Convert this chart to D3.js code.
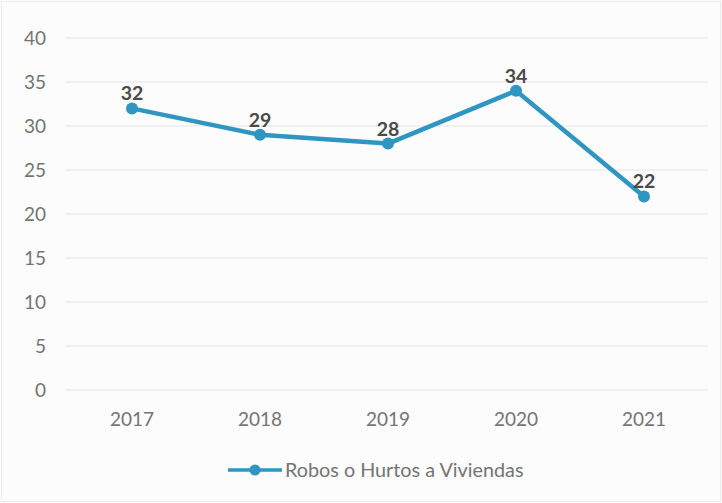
<!DOCTYPE html>
<html><head><meta charset="utf-8">
<script src="https://cdn.jsdelivr.net/npm/d3@7"></script>
<style>body{margin:0;background:#fcfcfc;}svg{display:block;font-family:Lato,"Open Sans",sans-serif;}</style>
</head><body>
<svg id="c" width="722" height="503"></svg>
<script>
const categories = ["2017","2018","2019","2020","2021"];
const values = [32, 29, 28, 34, 22];
const yTicks = [0,5,10,15,20,25,30,35,40];
const seriesName = "Robos o Hurtos a Viviendas";

const svg = d3.select("#c");
const W = 722, H = 503;
svg.append("rect").attr("width",W).attr("height",H).attr("fill","#fcfcfc");
svg.append("rect").attr("x",1.5).attr("y",1.5).attr("width",W-3).attr("height",H-3).attr("fill","none").attr("stroke","#ececec");

const x = d3.scaleBand().domain(categories).range([68,708]);
const y = d3.scaleLinear().domain([0,40]).range([390,38]);
const color = "#2f95c1";

const grid = svg.append("g");
grid.selectAll("line").data(yTicks).join("line")
  .attr("x1",66).attr("x2",708)
  .attr("y1",d=>y(d)).attr("y2",d=>y(d))
  .attr("stroke","#e4e4e4").attr("stroke-width",1);

const yAxis = svg.append("g").attr("transform","translate(46,0)")
  .call(d3.axisLeft(y).tickValues(yTicks).tickSize(0).tickPadding(0));
yAxis.select(".domain").remove();
yAxis.selectAll("text").attr("font-size",19).attr("fill","#747474").attr("font-family","Lato,sans-serif");

const xAxis = svg.append("g").attr("transform","translate(0,412)")
  .call(d3.axisBottom(x).tickSize(0).tickPadding(0));
xAxis.select(".domain").remove();
xAxis.selectAll("text").attr("font-size",19).attr("fill","#747474").attr("font-family","Lato,sans-serif");

const cx = d => x(d) + x.bandwidth()/2;
const line = d3.line().x((d,i)=>cx(categories[i])).y(d=>y(d));
svg.append("path").datum(values).attr("d",line)
  .attr("fill","none").attr("stroke",color).attr("stroke-width",4.5).attr("stroke-linejoin","round");
svg.selectAll("circle.pt").data(values).join("circle").attr("class","pt")
  .attr("cx",(d,i)=>cx(categories[i])).attr("cy",d=>y(d)).attr("r",6).attr("fill",color);
svg.selectAll("text.lbl").data(values).join("text").attr("class","lbl")
  .attr("x",(d,i)=>cx(categories[i])).attr("y",d=>y(d)-8)
  .attr("text-anchor","middle").attr("font-size",19.5).attr("font-weight","bold").attr("fill","#4a4a4a")
  .text(d=>d);

// legend
const lg = svg.append("g").attr("transform","translate(228,470)");
lg.append("line").attr("x1",0).attr("x2",54).attr("y1",0).attr("y2",0).attr("stroke",color).attr("stroke-width",3.5);
lg.append("circle").attr("cx",27).attr("cy",0).attr("r",5.5).attr("fill",color);
lg.append("text").attr("x",57).attr("y",0).attr("dy","0.35em").attr("font-size",19.8).attr("fill","#747474").text(seriesName);
</script>
</body></html>
